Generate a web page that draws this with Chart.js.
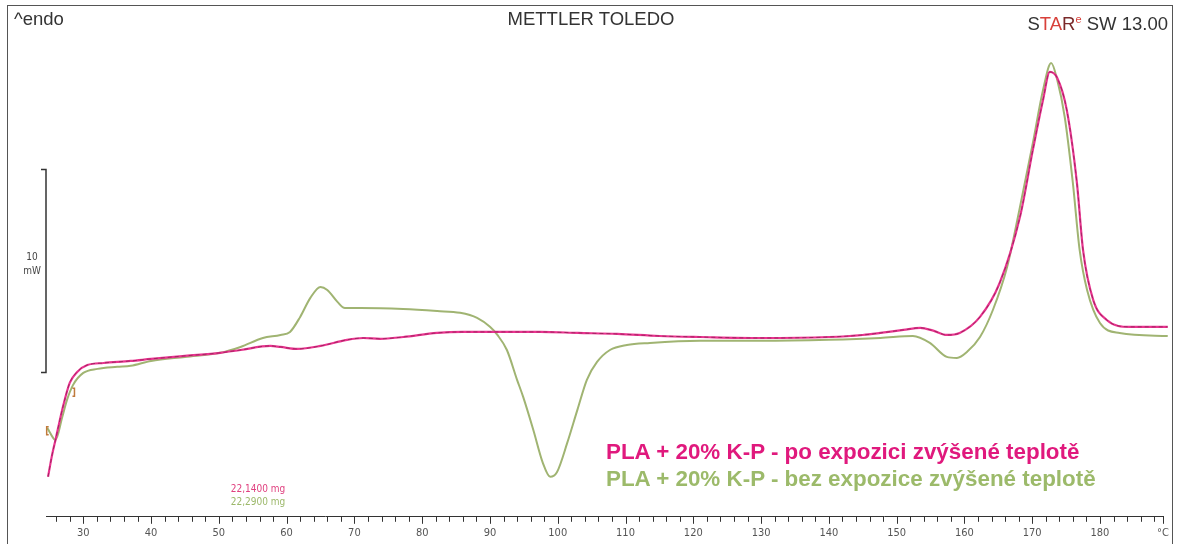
<!DOCTYPE html>
<html>
<head>
<meta charset="utf-8">
<title>DSC – PLA + 20% K-P</title>
<script src="https://cdn.jsdelivr.net/npm/chart.js@4.4.1/dist/chart.umd.min.js"></script>
<style>
    body { margin: 0; background: #fff; }
    #wrap { position: relative; width: 1184px; height: 544px; overflow: hidden; font-family: 'Liberation Sans', Arial, sans-serif; }
    #dsc { position: absolute; left: 0; top: 0; }
    #frame { position: absolute; left: 7px; top: 5px; width: 1166px; height: 600px; border: 1px solid #555; box-sizing: border-box; }
    .txt { position: absolute; white-space: nowrap; }
    .head { top: 8px; font-size: 18.5px; line-height: 22px; color: #333; }
    .small { font-family: 'DejaVu Sans Condensed', 'DejaVu Sans', sans-serif; font-size: 10px; line-height: 12px; }
    .legend { left: 606px; font-size: 22.4px; line-height: 27px; font-weight: bold; }
</style>
</head>
<body>
<div id="wrap">
    <canvas id="dsc" width="1184" height="544"></canvas>
    <div id="frame"></div>

    <div class="txt head" style="left:14px;">^endo</div>
    <div class="txt head" style="left:591px; transform:translateX(-50%);">METTLER TOLEDO</div>
    <div class="txt head" style="right:16px;"><span style="color:#333">S</span><span style="color:#d8403a">TA</span><span style="color:#7a2a2a">R</span><sup style="color:#d8403a; font-size:11px;">e</sup> SW 13.00</div>

    <div class="txt small" style="left:32px; top:251px; transform:translateX(-50%); color:#444;">10</div>
    <div class="txt small" style="left:32px; top:265px; transform:translateX(-50%); color:#444;">mW</div>

    <div class="txt small" style="left:258px; top:483px; transform:translateX(-50%); color:#e0407f;">22,1400 mg</div>
    <div class="txt small" style="left:258px; top:496px; transform:translateX(-50%); color:#9cb86a;">22,2900 mg</div>

    <div class="txt legend" style="top:438px; color:#e0197d;">PLA + 20% K-P - po expozici zvýšené teplotě</div>
    <div class="txt legend" style="top:465px; color:#9cba6a;">PLA + 20% K-P - bez expozice zvýšené teplotě</div>
</div>

<script>
// heat flow in mW (endo up), temperature in °C
const pinkTemp = [24.8, 25.4, 25.9, 27.0, 28.0, 29.1, 30.6, 33.0, 37.0, 40.0,
    45.0, 50.2, 53.2, 57.6, 59.1, 61.6, 65.0, 68.9, 71.3, 73.8,
    77.2, 82.2, 86.0, 90.5, 97.4, 103.0, 108.8, 115.0, 121.0, 130.0,
    140.0, 145.0, 147.6, 151.0, 153.5, 155.5, 157.4, 159.3, 162.3, 165.2,
    168.2, 170.1, 171.6, 172.6, 173.7, 175.1, 176.6, 177.5, 179.0, 181.0,
    184.4, 190.0];
const pinkFlow = [-5.17, -4.09, -3.35, -1.72, -0.54, 0.00, 0.34, 0.44, 0.54, 0.64,
    0.79, 0.94, 1.08, 1.28, 1.23, 1.13, 1.28, 1.58, 1.67, 1.63,
    1.72, 1.92, 1.97, 1.97, 1.97, 1.92, 1.87, 1.77, 1.72, 1.67,
    1.72, 1.82, 1.92, 2.07, 2.17, 2.02, 1.82, 1.92, 2.71, 4.38,
    7.64, 10.94, 13.40, 14.78, 14.48, 12.91, 9.31, 6.01, 3.55, 2.56,
    2.22, 2.22];

const greenTemp = [24.7, 25.1, 25.9, 26.9, 27.6, 28.5, 30.0, 32.1, 35.0, 37.0,
    40.0, 45.0, 50.2, 53.2, 56.5, 59.1, 60.5, 62.0, 63.5, 65.0,
    66.0, 67.5, 68.6, 70.9, 77.2, 82.2, 85.6, 88.1, 90.0, 91.1,
    92.5, 94.0, 94.9, 96.4, 97.8, 98.9, 99.9, 101.4, 102.9, 104.3,
    105.8, 107.7, 110.2, 113.6, 121.0, 130.0, 140.0, 147.6, 152.4, 154.9,
    157.4, 158.9, 160.4, 162.3, 164.2, 166.3, 168.2, 170.1, 171.6, 172.8,
    173.7, 174.8, 176.0, 177.0, 178.1, 180.0, 182.9, 190.0];
const greenFlow = [-2.76, -3.00, -3.35, -2.22, -1.38, -0.64, -0.05, 0.15, 0.25, 0.30,
    0.54, 0.74, 0.94, 1.23, 1.67, 1.82, 1.97, 2.71, 3.65, 4.19,
    4.04, 3.45, 3.15, 3.15, 3.10, 3.00, 2.91, 2.66, 2.22, 1.82,
    1.08, -0.39, -1.23, -2.86, -4.48, -5.17, -4.93, -3.50, -1.87, -0.39,
    0.49, 1.08, 1.33, 1.43, 1.53, 1.53, 1.58, 1.67, 1.77, 1.43,
    0.74, 0.69, 0.99, 1.72, 3.05, 5.17, 8.13, 11.28, 13.89, 15.22,
    14.38, 12.56, 9.31, 6.01, 4.04, 2.41, 1.92, 1.77];

// integration limit brackets on the green curve
const limitTemp = [24.6, 28.7];
const limitFlow = [-2.9, -1.0];

const majorTicks = [30, 40, 50, 60, 70, 80, 90, 100, 110, 120, 130, 140, 150, 160, 170, 180];
const xStart = 24.5;
const xEnd = 189.3;        // end of the axis, carries the unit label
const scaleBar = [0, 10];  // 10 mW

function toPoints(xs, ys) {
    return xs.map((t, i) => ({ x: t, y: ys[i] }));
}

const decorPlugin = {
    id: 'decor',
    afterDraw(chart) {
        const ctx = chart.ctx;
        const xs = chart.scales.x;
        const ys = chart.scales.y;
        const base = chart.chartArea.bottom;
        ctx.save();

        // ticks hanging below the temperature axis
        ctx.strokeStyle = '#333';
        ctx.lineWidth = 1;
        xs.ticks.forEach(t => {
            const px = Math.round(xs.getPixelForValue(t.value)) + 0.5;
            const len = (t.value % 10 === 0 || t.value === xEnd) ? 7 : 5;
            ctx.beginPath();
            ctx.moveTo(px, base);
            ctx.lineTo(px, base + len);
            ctx.stroke();
        });

        // 10 mW bar
        const b0 = Math.round(ys.getPixelForValue(scaleBar[0])) + 0.5;
        const b1 = Math.round(ys.getPixelForValue(scaleBar[1])) + 0.5;
        ctx.lineWidth = 1.5;
        ctx.beginPath();
        ctx.moveTo(41, b1); ctx.lineTo(46, b1); ctx.lineTo(46, b0); ctx.lineTo(41, b0);
        ctx.stroke();

        // limit brackets
        ctx.strokeStyle = '#c07a3c';
        ctx.lineWidth = 1.5;
        limitTemp.forEach((t, i) => {
            const px = xs.getPixelForValue(t);
            const py = ys.getPixelForValue(limitFlow[i]);
            const dir = i === 0 ? 1 : -1;
            ctx.beginPath();
            ctx.moveTo(px + 2 * dir, py - 4);
            ctx.lineTo(px, py - 4);
            ctx.lineTo(px, py + 4);
            ctx.lineTo(px + 2 * dir, py + 4);
            ctx.stroke();
        });
        ctx.restore();
    }
};

const curveClip = { left: 4, top: 0, right: 8, bottom: 0 };

document.addEventListener('DOMContentLoaded', function () {
    const ctx = document.getElementById('dsc').getContext('2d');
    new Chart(ctx, {
        type: 'line',
        data: {
            datasets: [{
                label: 'po expozici (core)',
                data: toPoints(pinkTemp, pinkFlow),
                borderColor: 'rgba(110, 20, 60, 0.55)',
                borderWidth: 1,
                borderDash: [4, 3],
                cubicInterpolationMode: 'monotone',
                pointRadius: 0,
                clip: curveClip,
                order: 0
            }, {
                label: 'PLA + 20% K-P - po expozici zvýšené teplotě',
                data: toPoints(pinkTemp, pinkFlow),
                borderColor: '#e8348f',
                borderWidth: 2.2,
                cubicInterpolationMode: 'monotone',
                pointRadius: 0,
                clip: curveClip,
                order: 1
            }, {
                label: 'PLA + 20% K-P - bez expozice zvýšené teplotě',
                data: toPoints(greenTemp, greenFlow),
                borderColor: '#a0b472',
                borderWidth: 2,
                cubicInterpolationMode: 'monotone',
                pointRadius: 0,
                clip: curveClip,
                order: 2
            }]
        },
        options: {
            responsive: false,
            animation: false,
            devicePixelRatio: 1,
            parsing: false,
            layout: { padding: { left: 46, right: 21, top: 5, bottom: 4 } },
            plugins: {
                legend: { display: false },
                tooltip: { enabled: false }
            },
            scales: {
                x: {
                    type: 'linear',
                    min: xStart,
                    max: xEnd,
                    afterBuildTicks: function (axis) {
                        const ticks = [];
                        for (let v = 26; v < xEnd; v += 2) ticks.push({ value: v });
                        ticks.push({ value: xEnd });
                        axis.ticks = ticks;
                    },
                    grid: {
                        drawOnChartArea: false,
                        drawTicks: true,
                        tickLength: 10,
                        tickColor: 'rgba(0,0,0,0)'
                    },
                    border: { display: true, color: '#333', width: 1 },
                    ticks: {
                        autoSkip: false,
                        maxRotation: 0,
                        padding: 0,
                        color: '#555',
                        font: { family: "'DejaVu Sans Condensed', 'DejaVu Sans', sans-serif", size: 11 },
                        callback: function (value) {
                            if (majorTicks.includes(value)) return String(value);
                            if (value === xEnd) return '°C';
                            return '';
                        }
                    }
                },
                y: {
                    display: false,
                    min: -7.14,
                    max: 18.08
                }
            }
        },
        plugins: [decorPlugin]
    });
});
</script>
</body>
</html>
